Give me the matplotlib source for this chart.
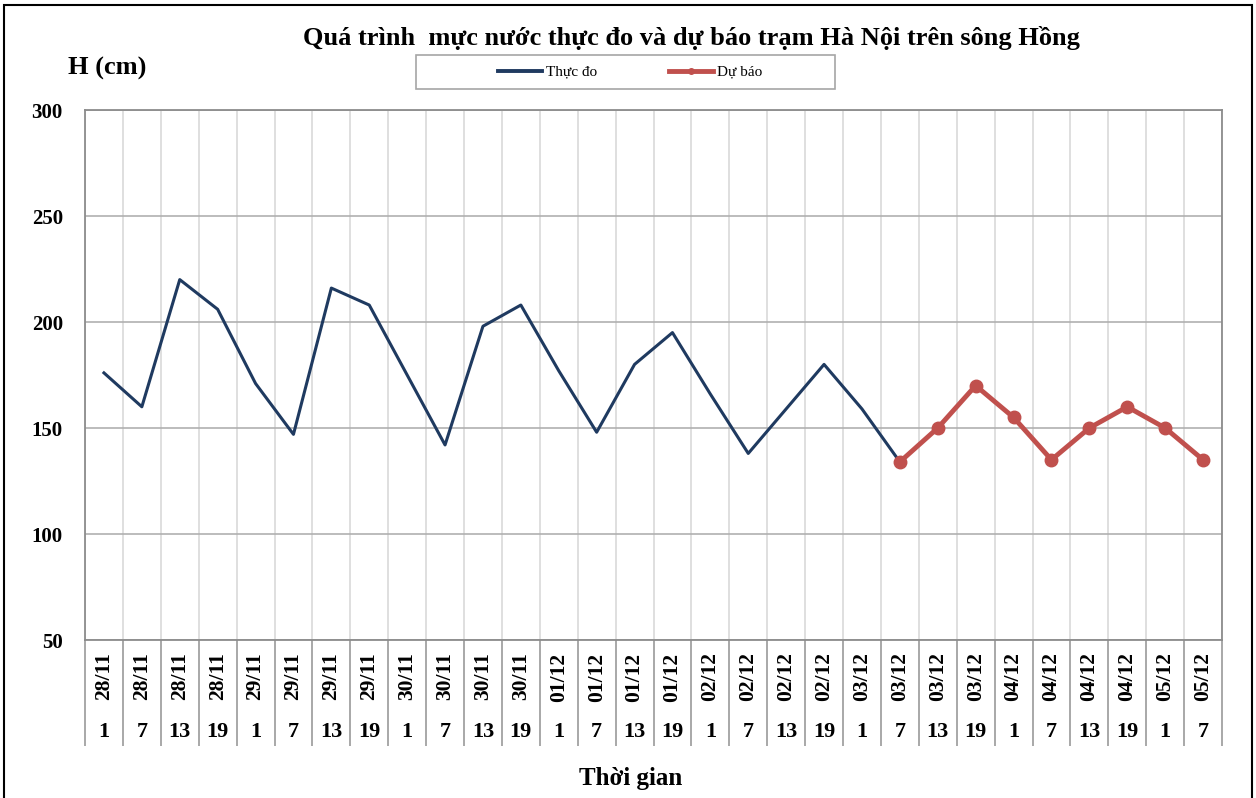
import matplotlib.pyplot as plt
from matplotlib.lines import Line2D
from matplotlib.patches import Rectangle

plt.rcParams['font.family'] = ['Liberation Serif', 'DejaVu Serif']

ngay = ['28/11'] * 4 + ['29/11'] * 4 + ['30/11'] * 4 + ['01/12'] * 4 + \
       ['02/12'] * 4 + ['03/12'] * 4 + ['04/12'] * 4 + ['05/12'] * 2
gio = ['1', '7', '13', '19'] * 7 + ['1', '7']

thuc_do = [176, 160, 220, 206, 171, 147, 216, 208, 175, 142, 198, 208,
           177, 148, 180, 195, 166, 138, 159, 180, 159, 134]
du_bao = [134, 150, 170, 155, 135, 150, 160, 150, 135]
vi_tri_du_bao = list(range(21, 30))

W, H = 1256, 798
fig = plt.figure(figsize=(W / 100, H / 100), dpi=100)
ax = fig.add_axes([85 / W, 1 - 640 / H, (1222 - 85) / W, (640 - 110) / H])

ax.plot(range(len(thuc_do)), thuc_do, color='#1f3a60', lw=2.2, label='Thực đo')
ax.plot(vi_tri_du_bao, du_bao, color='#c0504d', lw=3.5, marker='o', ms=9,
        label='Dự báo')

ax.set_xlim(-0.5, len(gio) - 0.5)
ax.set_ylim(50, 300)
ax.set_yticks(range(50, 301, 50))
ax.grid(axis='y', color='#b0b0b0', lw=1.2)
ax.set_xticks([i - 0.5 for i in range(len(gio) + 1)], minor=True)
ax.grid(axis='x', which='minor', color='#d9d9d9', lw=1.2)
ax.set_axisbelow(True)

ax.set_xticks(range(len(gio)))
ax.set_xticklabels(ngay, rotation=90, fontsize=15.5, fontweight='bold')
ax.tick_params(axis='x', which='major', length=0, pad=9)
ax.tick_params(axis='x', which='minor', length=76, width=1.2, color='#999999')
ax.tick_params(axis='y', length=0, pad=16, labelsize=15)
for lb in ax.get_yticklabels():
    lb.set_fontweight('bold')

for i, g in enumerate(gio):
    ax.text(i, -92 / 530, g, transform=ax.get_xaxis_transform(), ha='center',
            va='center', fontsize=16, fontweight='bold')

for s in ax.spines.values():
    s.set_color('#8c8c8c')
    s.set_linewidth(1.3)

fig.text(691 / W, 1 - 38 / H, 'Quá trình  mực nước thực đo và dự báo trạm Hà Nội trên sông Hồng',
         ha='center', va='center', fontsize=19, fontweight='bold')
fig.text(68 / W, 1 - 68 / H, 'H (cm)', ha='left', va='center', fontsize=19,
         fontweight='bold')
fig.text(631 / W, 1 - 778 / H, 'Thời gian', ha='center', va='center',
         fontsize=18, fontweight='bold')

# khung chú thích
fig.patches.append(Rectangle((416 / W, 1 - 89 / H), (835 - 416) / W, 34 / H,
                             transform=fig.transFigure, fill=False,
                             edgecolor='#a6a6a6', lw=1.2))
handles = [Line2D([], [], color='#1f3a60', lw=2.8),
           Line2D([], [], color='#c0504d', lw=3.5, marker='o', ms=4)]
leg = fig.legend(handles, ['Thực đo', 'Dự báo'], loc='center',
                 bbox_to_anchor=(630 / W, 1 - 72 / H), ncol=2, fontsize=11,
                 frameon=False, columnspacing=4.7, handlelength=2.9,
                 handletextpad=0.25)

fig.patches.append(Rectangle((4 / W, -0.01), 1248 / W, 1 - 5 / H + 0.01,
                             transform=fig.transFigure, fill=False,
                             edgecolor='black', lw=1.5))

fig.savefig('out.png', dpi=100)
